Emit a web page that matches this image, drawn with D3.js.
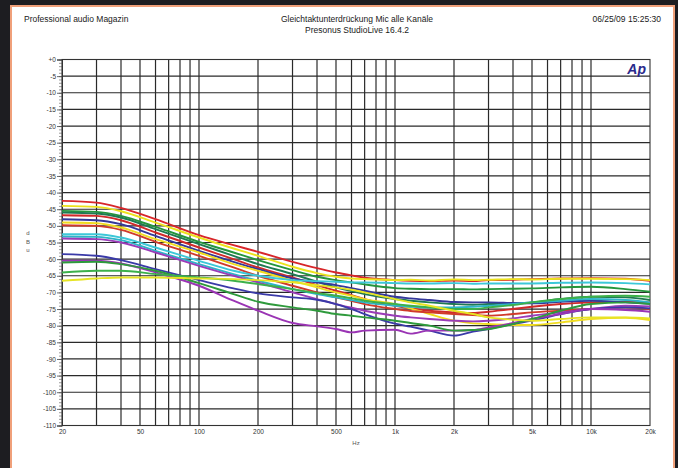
<!DOCTYPE html>
<html><head><meta charset="utf-8">
<script src="https://cdn.jsdelivr.net/npm/d3@7/dist/d3.min.js"></script>
<style>body{margin:0;background:#1d1d21;}svg{display:block;font-family:"Liberation Sans",Arial,sans-serif;}</style>
</head><body>
<script>
const freqs = [20,30,40,60,100,150,200,300,400,500,600,700,1000,1200,1500,2000,2500,3000,4000,5000,7000,10000,15000,20000];
const redTop    = [-42.5,-43,-44.6,-48,-52.8,-55.8,-57.8,-60.8,-62.7,-64,-64.9,-65.6,-66.3,-66.5,-66.6,-66.4,-66.6,-66.3,-66.2,-66,-65.8,-65.7,-65.9,-66.5];
const yellowTop = [-44,-44.3,-45.6,-49,-53.5,-56.8,-59,-62.3,-64.2,-65.3,-65.8,-66,-66.3,-66.2,-66.4,-66.1,-66.3,-66.2,-66,-66.1,-65.9,-65.9,-66,-66.3];
const greenA    = [-45.5,-45.8,-47,-50.3,-54.8,-58,-60.3,-63.3,-65.3,-66.3,-67,-67.6,-68.7,-68.9,-69,-69,-69.1,-69,-68.9,-68.8,-68.5,-68.3,-69,-69.8];
const darkGreen = [-46,-46.3,-47.5,-51,-55.5,-59,-61.5,-64.5,-66.8,-68.5,-69.6,-70.5,-72,-72.5,-73,-73.5,-73.7,-73.5,-73.3,-73,-72,-71.3,-71.5,-72.3];
const redB      = [-46.8,-47,-48.3,-52,-56.5,-60,-62.5,-65.5,-67.8,-69.5,-70.8,-72,-74,-74.8,-75.5,-76,-76.2,-75.8,-75,-74.3,-73.5,-73,-72.8,-73];
const navyA     = [-48,-48.3,-49.5,-53,-57.5,-60.8,-63,-65.8,-67,-67.8,-68.7,-69.5,-71.3,-71.8,-72.3,-72.9,-73,-73,-73.2,-73.3,-72.8,-72.5,-73,-73.4];
const yellowB   = [-49,-49.2,-50.5,-54,-58,-61.5,-63.5,-66.5,-68.5,-70,-71,-72,-73.5,-74.8,-76.5,-78.5,-79.3,-79.5,-79.8,-79.8,-79,-78,-77.6,-78.3];
const redC      = [-49.8,-50,-51.2,-54.8,-59,-62.5,-65,-68,-70,-71.5,-72.5,-73.5,-75,-75.6,-76,-76.5,-76.8,-77,-76.5,-76,-75.5,-75,-74.5,-75];
const cyanA     = [-52.5,-52.5,-53.5,-56.5,-60.5,-63.5,-65,-66.3,-66.6,-66.8,-67,-67,-67.2,-67.3,-67.3,-67.2,-67.4,-67.3,-67.3,-67.3,-67.1,-67,-67.2,-67.6];
const cyanB     = [-53.2,-53.3,-54.3,-57.5,-61.5,-64.5,-66.5,-69,-70.5,-71.5,-72.3,-73,-74,-74.3,-74.5,-74.5,-74.3,-74,-73.5,-73,-72.5,-72,-72.3,-73];
const purpleA   = [-53.8,-54,-55,-58,-62,-65,-67,-70,-72,-73.5,-74.6,-75.5,-77,-77.5,-78,-78.5,-78.7,-78.5,-77.8,-77,-76,-75,-74,-74.2];
const navyB     = [-58.5,-59,-60.3,-63,-66.3,-68.8,-70.3,-71.5,-72.2,-73.5,-75,-76.5,-79.4,-80.3,-81.5,-83,-81.8,-81,-79.5,-78.5,-76.5,-75,-74.5,-74.8];
const purpleB   = [-60.5,-60.5,-61.3,-64,-68,-72.5,-75.5,-79.2,-80.2,-81,-82,-81.5,-81.2,-82.4,-81.5,-81.5,-81.3,-80.5,-79.2,-78,-76.5,-75,-75.3,-75.8];
const greenB    = [-61,-60.8,-61.5,-63.5,-67.2,-70.5,-72.8,-74.5,-75.5,-76.5,-77,-77.5,-78.5,-79.2,-80,-81.5,-81.3,-81,-79.5,-78,-75.5,-73.5,-73,-73.5];
const greenC    = [-64,-63.5,-63.5,-64.5,-65.5,-66.5,-67.5,-69,-70.2,-71,-71.8,-72.5,-73.5,-74,-74.5,-75,-75,-74.5,-73.8,-73,-72,-71.3,-71,-71.3];
const yellowC   = [-66.5,-65.8,-65.5,-65.5,-65.8,-66,-66.3,-67,-67.8,-68.5,-69.2,-70,-72,-73,-74,-75.5,-76.5,-77.5,-78.2,-78.5,-78,-77.5,-77.5,-77.8];

const seriesList = [redTop,yellowTop,greenA,darkGreen,redB,navyA,yellowB,redC,cyanA,cyanB,purpleA,navyB,purpleB,greenB,greenC,yellowC];
const seriesColors = ["#d8262a","#ece21c","#24963c","#1f7a52","#d02a2a","#34389a","#f0dc20","#d03a2a","#3cc8d8","#2eb4c8","#9a3cb8","#3a3aa8","#9a34b4","#2e9a3c","#3cb04a","#e6e424"];

const yTicks = d3.range(0,-111,-5);
const xLabelTicks = [20,50,100,200,500,1000,2000,5000,10000,20000];
const xLabelText = ["20","50","100","200","500","1k","2k","5k","10k","20k"];

const W=678,H=468;
const svg=d3.select("body").append("svg").attr("width",W).attr("height",H);
svg.append("rect").attr("x",0).attr("y",0).attr("width",W).attr("height",H).attr("fill","#1d1d21");
svg.append("rect").attr("x",11).attr("y",6).attr("width",663).attr("height",470).attr("fill","#fff").attr("stroke","#f0a07a").attr("stroke-width",2);

const x=d3.scaleLog().domain([20,20000]).range([62,650]);
const y=d3.scaleLinear().domain([0,-110]).range([59.5,425.5]);

// grid
const g=svg.append("g");
const vgrid=[];
[10,100,1000,10000].forEach(d=>{for(let k=1;k<10;k++){const f=d*k; if(f>20&&f<20000) vgrid.push(f);}});
g.selectAll("line.v").data(vgrid).enter().append("line")
 .attr("x1",d=>x(d)).attr("x2",d=>x(d)).attr("y1",y(0)).attr("y2",y(-110))
 .attr("stroke","#2a2a2a").attr("stroke-width",1.2);
g.selectAll("line.h").data(yTicks.slice(1,-1)).enter().append("line")
 .attr("x1",x(20)).attr("x2",x(20000)).attr("y1",d=>y(d)).attr("y2",d=>y(d))
 .attr("stroke","#2a2a2a").attr("stroke-width",1.2);
svg.append("rect").attr("x",x(20)).attr("y",y(0)).attr("width",x(20000)-x(20)).attr("height",y(-110)-y(0))
 .attr("fill","none").attr("stroke","#333").attr("stroke-width",1.1);

// y axis ticks
const yAxisMinor=d3.axisLeft(y).tickValues(d3.range(0,-111,-1)).tickSize(3).tickFormat("");
const ya=svg.append("g").attr("transform",`translate(${x(20)},0)`).call(yAxisMinor);
ya.select(".domain").remove();
ya.selectAll("line").attr("stroke","#555").attr("stroke-width",0.6);
const yAxisMajor=d3.axisLeft(y).tickValues(yTicks).tickSize(5).tickPadding(1).tickFormat(d=>d===0?"+0":String(d));
const yb=svg.append("g").attr("transform",`translate(${x(20)},0)`).call(yAxisMajor);
yb.select(".domain").attr("stroke","#333");
yb.selectAll("line").attr("stroke","#444").attr("stroke-width",0.8);
yb.selectAll("text").attr("font-size",6.5).attr("fill","#333").attr("font-family","Liberation Sans, Arial");

// x labels
const xAxis=d3.axisBottom(x).tickValues(xLabelTicks).tickSize(0).tickPadding(3).tickFormat((d,i)=>xLabelText[i]);
const xa=svg.append("g").attr("transform",`translate(0,${y(-110)+1})`).call(xAxis);
xa.select(".domain").remove();
xa.selectAll("text").attr("font-size",6.5).attr("fill","#333").attr("font-family","Liberation Sans, Arial");

svg.append("text").attr("x",356).attr("y",445).attr("font-size",6).attr("fill","#555").attr("text-anchor","middle").text("Hz");
["d","B","u"].forEach((c,i)=>svg.append("text").attr("x",28).attr("y",235+i*8.5).attr("font-size",6).attr("fill","#555").attr("text-anchor","middle").text(c));

// curves
const line=d3.line().x(d=>x(d[0])).y(d=>y(d[1])).curve(d3.curveMonotoneX);
const cg=svg.append("g");
seriesList.forEach((s,i)=>{
  cg.append("path").datum(freqs.map((f,j)=>[f,s[j]])).attr("d",line)
    .attr("fill","none").attr("stroke",seriesColors[i]).attr("stroke-width",1.9).attr("stroke-linejoin","round");
});

// header
svg.append("text").attr("x",24).attr("y",22).attr("font-size",8.5).attr("fill","#1a1a1a").text("Professional audio Magazin");
svg.append("text").attr("x",357).attr("y",22).attr("font-size",8.5).attr("fill","#1a1a1a").attr("text-anchor","middle").text("Gleichtaktunterdrückung Mic alle Kanäle");
svg.append("text").attr("x",357).attr("y",33).attr("font-size",8.5).attr("fill","#1a1a1a").attr("text-anchor","middle").text("Presonus StudioLive 16.4.2");
svg.append("text").attr("x",661).attr("y",22).attr("font-size",8.5).attr("fill","#1a1a1a").attr("text-anchor","end").text("06/25/09 15:25:30");
svg.append("text").attr("x",646).attr("y",74).attr("font-size",14).attr("font-weight","bold").attr("font-style","italic")
  .attr("fill","#2a2a8c").attr("text-anchor","end").attr("font-family","Liberation Sans, Arial").text("Ap");
</script>
</body></html>
